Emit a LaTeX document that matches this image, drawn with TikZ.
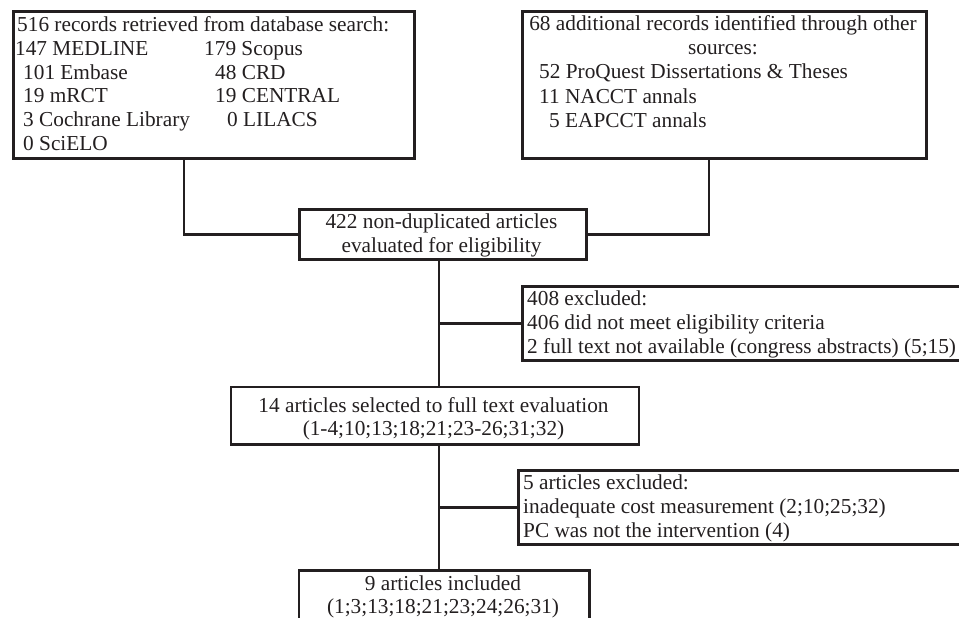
\documentclass[tikz,border=0pt]{standalone}
\usepackage{fontspec}
\setmainfont{Liberation Serif}
\definecolor{ink}{HTML}{231F20}
\begin{document}
\begin{tikzpicture}[x=1pt,y=-1pt,
  boxnode/.style={draw=ink,line width=2.7pt,rectangle,inner sep=0pt,anchor=north west},
  txt/.style={anchor=base west,inner sep=0pt,text=ink,font=\fontsize{21.3}{24}\selectfont},
  ctxt/.style={anchor=base,inner sep=0pt,text=ink,font=\fontsize{21.3}{24}\selectfont},
  link/.style={draw=ink,line width=2.7pt}]
\useasboundingbox (0,0) rectangle (959,618);
\clip (0,0) rectangle (959,618);
% boxes
\node[boxnode,minimum width=401pt,minimum height=147pt] (A) at (12,10) {};
\node[boxnode,minimum width=404pt,minimum height=147pt] (B) at (521,10) {};
\node[boxnode,minimum width=287pt,minimum height=50pt] (C) at (298,208) {};
\node[boxnode,minimum width=460pt,minimum height=74pt] (X1) at (521,285) {};
\node[boxnode,minimum width=408pt,minimum height=57.5pt] (D) at (229.5,385.5) {};
\node[boxnode,minimum width=460pt,minimum height=74pt] (X2) at (517,469) {};
\node[boxnode,minimum width=290.5pt,minimum height=80pt] (F) at (297.5,569) {};
% text A
\node[txt] (a1) at (17,32) {516 records retrieved from database search:};
\node[txt] (a2) at (15,55.6) {147 MEDLINE};
\node[txt] (a3) at (204,55.6) {179 Scopus};
\node[txt] (a4) at (23,79.2) {101 Embase};
\node[txt] (a5) at (215,79.2) {48 CRD};
\node[txt] (a6) at (23,102.8) {19 mRCT};
\node[txt] (a7) at (215,102.8) {19 CENTRAL};
\node[txt] (a8) at (23,126.4) {3 Cochrane Library};
\node[txt] (a9) at (227,126.4) {0 LILACS};
\node[txt] (a10) at (23,150) {0 SciELO};
% text B
\node[ctxt] (b1) at (723,31) {68 additional records identified through other};
\node[ctxt] (b2) at (723,55) {sources:};
\node[txt] (b3) at (539,79) {52 ProQuest Dissertations \& Theses};
\node[txt] (b4) at (539,103) {11 NACCT annals};
\node[txt] (b5) at (549,127) {5 EAPCCT annals};
% text C
\node[ctxt] (c1) at (441.5,228) {422 non-duplicated articles};
\node[ctxt] (c2) at (441.5,252) {evaluated for eligibility};
% text X1
\node[txt] (x11) at (527,305) {408 excluded:};
\node[txt] (x12) at (527,329) {406 did not meet eligibility criteria};
\node[txt] (x13) at (527,353) {2 full text not available (congress abstracts) (5;15)};
% text D
\node[ctxt] (d1) at (433.5,412) {14 articles selected to full text evaluation};
\node[ctxt] (d2) at (433.5,435.5) {(1-4;10;13;18;21;23-26;31;32)};
% text X2
\node[txt] (x21) at (523,489) {5 articles excluded:};
\node[txt] (x22) at (523,513) {inadequate cost measurement (2;10;25;32)};
\node[txt] (x23) at (523,537) {PC was not the intervention (4)};
% text F
\node[ctxt] (f1) at (443,590) {9 articles included};
\node[ctxt] (f2) at (443,613) {(1;3;13;18;21;23;24;26;31)};
% connectors
\coordinate (jA) at (184,0);
\coordinate (jB) at (709,0);
\coordinate (t) at (439,0);
\draw[link] (A.south -| jA) |- (C.west);
\draw[link] (B.south -| jB) |- (C.east);
\draw[link] (C.south -| t) -- (D.north -| t);
\draw[link] (t |- X1.west) -- (X1.west);
\draw[link] (D.south -| t) -- (F.north -| t);
\draw[link] (t |- X2.west) -- (X2.west);
\end{tikzpicture}
\end{document}
